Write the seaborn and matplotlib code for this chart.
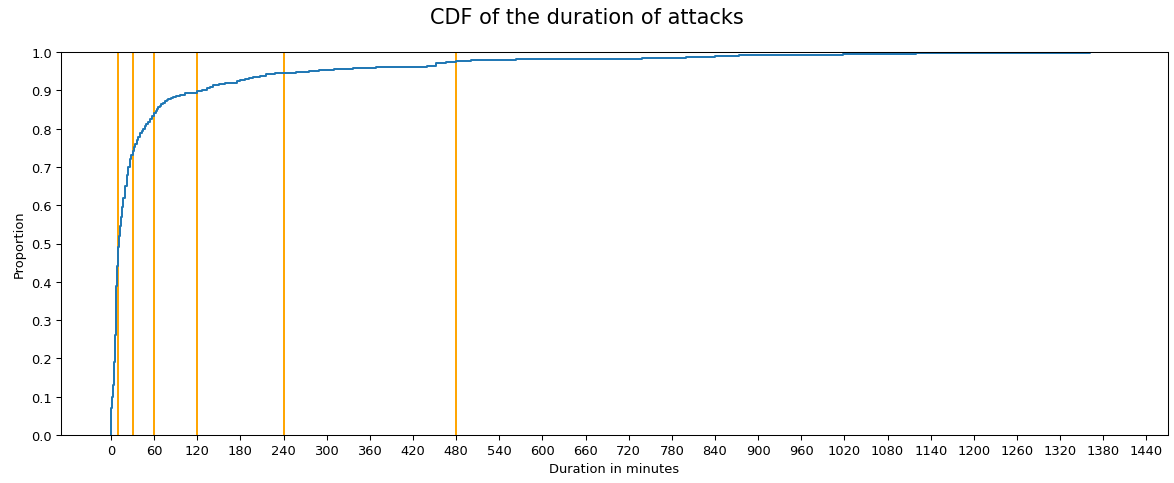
import numpy as np
import pandas as pd
import matplotlib
matplotlib.use("Agg")
import matplotlib.pyplot as plt
import seaborn as sns

# Durations (minutes) and cumulative proportion
durations = [0.5, 2, 3.2, 4.2, 5.5, 6.5, 7.4, 8.7, 9.7, 11, 12.5, 14, 15.5, 17,
             19, 21.7, 24, 26, 28, 30, 32, 34, 36, 38, 41, 43, 45, 47, 49, 51,
             54, 57, 60, 62, 64, 66, 68, 70, 72, 75, 78, 80, 83, 86, 91, 96,
             103, 110, 120, 127, 133, 138, 142, 150, 158, 165, 175, 180, 186,
             192, 198, 207, 216, 228, 239, 258, 262, 275, 290, 310, 336, 369,
             400, 429, 440, 452, 466, 480, 500, 526, 563, 600, 655, 738, 762,
             800, 840, 873, 916, 1018, 1039, 1106, 1120, 1178, 1362, 1400]
cum_prop = [0.07, 0.10, 0.13, 0.19, 0.26, 0.32, 0.39, 0.44, 0.49, 0.52, 0.545,
            0.57, 0.595, 0.62, 0.65, 0.68, 0.70, 0.72, 0.73, 0.742, 0.752,
            0.76, 0.769, 0.777, 0.788, 0.794, 0.80, 0.806, 0.812, 0.817, 0.825,
            0.833, 0.842, 0.847, 0.851, 0.856, 0.86, 0.864, 0.867, 0.872,
            0.875, 0.877, 0.880, 0.883, 0.886, 0.889, 0.892, 0.894, 0.899,
            0.902, 0.905, 0.909, 0.913, 0.916, 0.918, 0.919, 0.925, 0.927,
            0.929, 0.931, 0.934, 0.938, 0.942, 0.944, 0.945, 0.947, 0.949,
            0.951, 0.953, 0.955, 0.957, 0.960, 0.9605, 0.961, 0.964, 0.970,
            0.973, 0.976, 0.978, 0.979, 0.981, 0.9815, 0.982, 0.9835, 0.985,
            0.986, 0.990, 0.991, 0.993, 0.9935, 0.994, 0.995, 0.997, 0.998,
            0.999, 1.0]
marker_minutes = [10, 30, 60, 120, 240, 480]
x_ticks = list(range(0, 1441, 60))
y_ticks = [round(i * 0.1, 1) for i in range(11)]

weights = np.diff(np.r_[0.0, cum_prop])
df = pd.DataFrame({"duration": durations, "w": weights})

DPI = 94
fig = plt.figure(figsize=(1174 / DPI, 484 / DPI), dpi=DPI)
ax = fig.add_axes([61 / 1174, 1 - 436 / 484, (1168 - 61) / 1174, (436 - 53) / 484])

for m in marker_minutes:
    ax.axvline(m, color="orange", lw=1.5)

sns.ecdfplot(data=df, x="duration", weights="w", ax=ax, color="#1f77b4", lw=1.5)

ax.set_xticks(x_ticks)
ax.set_yticks(y_ticks)
ax.set_ylim(0, 1)
ax.set_xlabel("Duration in minutes", fontsize=10)
ax.set_ylabel("Proportion", fontsize=10)
ax.tick_params(labelsize=10)
fig.suptitle("CDF of the duration of attacks", x=0.5, y=1 - 18 / 484,
             va="center", fontsize=16)

fig.savefig("out.png", dpi=DPI)
